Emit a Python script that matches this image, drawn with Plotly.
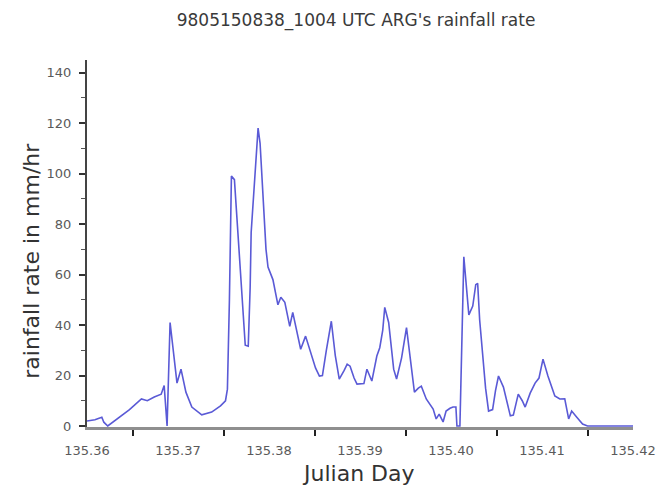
import plotly.graph_objects as go

# Julian day of each sample and the rainfall rate (mm/hr) measured at it
julian_day = [
    135.36000, 135.36087, 135.36163, 135.36185, 135.36228, 135.36359, 135.36467,
    135.36598, 135.36663, 135.36739, 135.36815, 135.36848, 135.36880, 135.36913,
    135.36957, 135.36989, 135.37033, 135.37087, 135.37152, 135.37261, 135.37370,
    135.37467, 135.37522, 135.37543, 135.37565, 135.37587, 135.37620, 135.37652,
    135.37685, 135.37717, 135.37739, 135.37772, 135.37793, 135.37804, 135.37848,
    135.37880, 135.37902, 135.37935, 135.37967, 135.37989, 135.38011, 135.38043,
    135.38098, 135.38130, 135.38174, 135.38228, 135.38261, 135.38304, 135.38348,
    135.38402, 135.38457, 135.38511, 135.38554, 135.38587, 135.38630, 135.38685,
    135.38728, 135.38772, 135.38826, 135.38859, 135.38891, 135.38935, 135.38967,
    135.39043, 135.39076, 135.39130, 135.39185, 135.39217, 135.39250, 135.39272,
    135.39315, 135.39348, 135.39370, 135.39402, 135.39457, 135.39511, 135.39565,
    135.39598, 135.39641, 135.39674, 135.39728, 135.39804, 135.39837, 135.39870,
    135.39913, 135.39946, 135.39989, 135.40022, 135.40054, 135.40065, 135.40098,
    135.40141, 135.40196, 135.40239, 135.40272, 135.40293, 135.40315, 135.40348,
    135.40380, 135.40413, 135.40457, 135.40489, 135.40522, 135.40576, 135.40620,
    135.40652, 135.40685, 135.40739, 135.40783, 135.40815, 135.40870, 135.40924,
    135.40967, 135.41011, 135.41065, 135.41141, 135.41196, 135.41250, 135.41293,
    135.41326, 135.41380, 135.41446, 135.41500, 135.42000,
]
rain_rate = [
    2.0, 2.5, 3.5, 1.5, 0.0, 3.5, 6.5,
    10.7, 10.0, 11.5, 12.6, 16.0, 0.0, 41.0,
    28.0, 17.0, 22.5, 13.4, 7.5, 4.4, 5.5,
    8.0, 10.0, 14.6, 50.0, 99.0, 97.6, 80.0,
    63.0, 42.0, 32.0, 31.6, 55.0, 76.7, 100.0,
    118.0, 112.0, 91.0, 70.0, 63.0, 61.0, 58.0,
    48.0, 51.0, 49.0, 39.5, 45.0, 38.0, 30.4,
    35.6, 29.0, 23.0, 19.8, 20.0, 30.0, 41.5,
    28.0, 18.6, 22.0, 24.5, 23.7, 19.0, 16.6,
    16.8, 22.5, 17.8, 27.7, 31.0, 38.0, 47.0,
    41.0, 30.0, 22.5, 18.6, 27.0, 39.0, 22.5,
    13.4, 15.0, 15.8, 10.7, 6.7, 2.8, 4.7,
    1.6, 5.9, 7.0, 7.5, 7.5, 0.0, 0.0,
    67.0, 44.0, 47.5, 56.0, 56.5, 42.0, 29.0,
    15.0, 5.9, 6.5, 14.0, 19.8, 15.4, 8.0,
    4.0, 4.3, 12.6, 10.0, 7.5, 13.0, 17.0,
    19.0, 26.5, 19.8, 11.9, 10.7, 10.8, 2.8,
    5.9, 3.6, 0.8, 0.0, 0.0,
]

x_labels = ["135.36", "135.37", "135.38", "135.39", "135.40", "135.41", "135.42"]
x_label_vals = [135.36, 135.37, 135.38, 135.39, 135.40, 135.41, 135.42]
x_tick_marks = [135.365, 135.375, 135.385, 135.395, 135.405, 135.415]
y_tick_vals = [0, 20, 40, 60, 80, 100, 120, 140]

FONT = "DejaVu Sans"

fig = go.Figure()
fig.add_trace(go.Scatter(
    x=julian_day, y=rain_rate, mode="lines",
    line=dict(color="#5a5ad6", width=1.6),
    hoverinfo="x+y", showlegend=False,
))

fig.update_layout(
    width=668, height=495,
    margin=dict(l=87, r=28, t=60, b=68),
    paper_bgcolor="white", plot_bgcolor="white",
    title=dict(
        text="9805150838_1004 UTC ARG's rainfall rate",
        font=dict(family=FONT, size=17, color="#3a3a3a"),
        xref="container", x=0.533, xanchor="center",
        yref="container", y=1 - 20 / 495, yanchor="middle",
    ),
    xaxis=dict(
        range=[135.36, 135.42],
        tickvals=x_label_vals, ticktext=x_labels, ticks="",
        ticklabelstandoff=9,
        tickfont=dict(family=FONT, size=13, color="#5a5a5a"),
        showgrid=False, zeroline=False,
        showline=True, linecolor="#8f8f8f", linewidth=3,
        layer="below traces",
        minor=dict(tickvals=x_tick_marks, ticks="outside", ticklen=6,
                   tickwidth=2, tickcolor="#222222"),
    ),
    yaxis=dict(
        range=[-0.4, 145],
        tickvals=y_tick_vals, ticks="outside", ticklen=6, tickwidth=1.5,
        tickcolor="#333333",
        ticklabelstandoff=5,
        tickfont=dict(family=FONT, size=13, color="#5a5a5a"),
        showgrid=False, zeroline=False,
        showline=True, linecolor="#444444", linewidth=2,
        layer="below traces",
        minor=dict(dtick=10, ticks="outside", ticklen=4, tickwidth=1.2,
                   tickcolor="#555555", showgrid=False),
    ),
    annotations=[
        dict(text="Julian Day", xref="paper", yref="paper",
             x=(362 - 87) / 553, y=(427 - 473) / 367,
             xanchor="center", yanchor="middle", showarrow=False,
             font=dict(family=FONT, size=22, color="#333333")),
        dict(text="rainfall rate in mm/hr", xref="paper", yref="paper",
             x=(30 - 87) / 553, y=(427 - 261) / 367, textangle=-90,
             xanchor="center", yanchor="middle", showarrow=False,
             font=dict(family=FONT, size=22, color="#333333")),
    ],
)

fig.write_html("out.html")
